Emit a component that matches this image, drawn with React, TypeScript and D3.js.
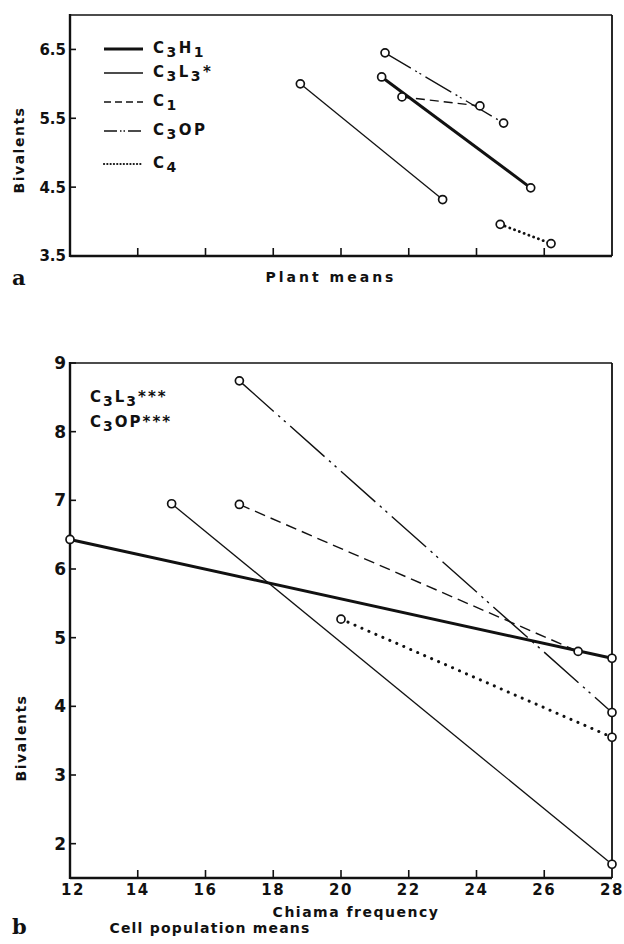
// Bivalents vs chiasma frequency, two panels (plant means / cell population means)
import React, { useRef, useEffect } from 'react';
import * as d3 from 'd3';

const SERIES = ['C3H1', 'C3L3*', 'C1', 'C3OP', 'C4'];

const X_TICKS = [12, 14, 16, 18, 20, 22, 24, 26, 28];
const TOP_Y_TICKS = [3.5, 4.5, 5.5, 6.5];
const BOTTOM_Y_TICKS = [2, 3, 4, 5, 6, 7, 8, 9];

// panel a: plant means, [start, end] per series
const PLANT_X = [[21.2, 25.6], [18.8, 23.0], [21.8, 24.1], [21.3, 24.8], [24.7, 26.2]];
const PLANT_Y = [[6.1, 4.49], [6.0, 4.32], [5.81, 5.68], [6.45, 5.43], [3.96, 3.68]];

// panel b: cell population means
const CELL_X = [[12, 28], [15, 28], [17, 27], [17, 28], [20, 28]];
const CELL_Y = [[6.43, 4.7], [6.95, 1.7], [6.94, 4.8], [8.74, 3.91], [5.27, 3.55]];

const SIG_LABELS = ['C3L3***', 'C3OP***'];

const FONT = '"DejaVu Sans", sans-serif';

type Style = { width: number; dash: string | null; cap: string };
const STYLES_TOP: Style[] = [
  { width: 3, dash: null, cap: 'butt' },
  { width: 1.3, dash: null, cap: 'butt' },
  { width: 1.4, dash: '9,5', cap: 'butt' },
  { width: 1.3, dash: '30,5,2,3,2,5', cap: 'butt' },
  { width: 2.8, dash: '0.1,5', cap: 'round' },
];
const STYLES_BOTTOM: Style[] = [
  { width: 3, dash: null, cap: 'butt' },
  { width: 1.3, dash: null, cap: 'butt' },
  { width: 1.4, dash: '11,6', cap: 'butt' },
  { width: 1.4, dash: '46,6,2.5,5,2.5,6', cap: 'butt' },
  { width: 3, dash: '0.1,7.5', cap: 'round' },
];

// digits become subscripts, e.g. C3H1 -> C₃H₁
function subText(sel: any, label: string, size: number) {
  sel.selectAll('tspan').remove();
  let sub = false;
  for (const ch of label) {
    const isDigit = /[0-9]/.test(ch);
    const t = sel.append('tspan').text(ch);
    if (isDigit && !sub) { t.attr('dy', 4).style('font-size', `${size - 1}px`); sub = true; }
    else if (!isDigit && sub) { t.attr('dy', -4); sub = false; }
    else if (isDigit) t.style('font-size', `${size - 1}px`);
  }
}

function drawPanel(svg: any, opts: any) {
  const { x, y, yTicks, xs, ys, styles, tickFmt, tickSize, xLabels } = opts;
  const g = svg.append('g');
  const [x0, x1] = x.range();
  const [y0, y1] = y.range();

  // frame
  g.append('line').attr('x1', x0).attr('x2', x1).attr('y1', y1).attr('y2', y1).attr('stroke', '#111').attr('stroke-width', 1.6);
  g.append('line').attr('x1', x1).attr('x2', x1).attr('y1', y1).attr('y2', y0).attr('stroke', '#111').attr('stroke-width', 1.8);
  g.append('line').attr('x1', x0).attr('x2', x0).attr('y1', y1 - 1).attr('y2', y0 + 1).attr('stroke', '#111').attr('stroke-width', 2.4);
  g.append('line').attr('x1', x0).attr('x2', x1).attr('y1', y0).attr('y2', y0).attr('stroke', '#111').attr('stroke-width', 2.4);

  // y ticks
  yTicks.forEach((t: number) => {
    g.append('line').attr('x1', x0).attr('x2', x0 + 6).attr('y1', y(t)).attr('y2', y(t))
      .attr('stroke', '#111').attr('stroke-width', 1.6);
    g.append('text').attr('x', x0 - 4).attr('y', y(t)).attr('dy', '0.36em')
      .attr('text-anchor', 'end').attr('font-family', FONT).attr('font-weight', 'bold')
      .style('font-size', `${tickSize}px`).attr('fill', '#111').text(tickFmt(t));
  });

  // x ticks
  X_TICKS.slice(1, -1).forEach((t: number) => {
    g.append('line').attr('x1', x(t)).attr('x2', x(t)).attr('y1', y0).attr('y2', y0 - 8)
      .attr('stroke', '#111').attr('stroke-width', 1.6);
  });
  if (xLabels) {
    X_TICKS.forEach((t: number) => {
      g.append('text').attr('x', x(t) + (t === 12 ? 3 : 0)).attr('y', y0 + 17)
        .attr('text-anchor', 'middle').attr('font-family', FONT).attr('font-weight', 'bold')
        .style('font-size', '15px').style('letter-spacing', '1.5px').attr('fill', '#111').text(t);
    });
  }

  // series
  const line = d3.line<[number, number]>().x(d => x(d[0])).y(d => y(d[1]));
  SERIES.forEach((_, i) => {
    const pts: [number, number][] = xs[i].map((v: number, j: number) => [v, ys[i][j]]);
    const s = styles[i];
    g.append('path').attr('d', line(pts)).attr('fill', 'none').attr('stroke', '#111')
      .attr('stroke-width', s.width).attr('stroke-dasharray', s.dash)
      .attr('stroke-linecap', s.cap);
  });
  SERIES.forEach((_, i) => {
    xs[i].forEach((v: number, j: number) => {
      g.append('circle').attr('cx', x(v)).attr('cy', y(ys[i][j])).attr('r', 4)
        .attr('fill', '#fff').attr('stroke', '#111').attr('stroke-width', 1.7);
    });
  });
  return g;
}

export default function App() {
  const svgRef = useRef<SVGSVGElement>(null);

  useEffect(() => {
    if (!svgRef.current) return;
    const svg = d3.select(svgRef.current);
    svg.selectAll('*').remove();

    // ---- panel a ----
    const xa = d3.scaleLinear().domain([12, 28]).range([70, 612]);
    const ya = d3.scaleLinear().domain([3.5, 7]).range([256, 15]);
    drawPanel(svg, {
      x: xa, y: ya, yTicks: TOP_Y_TICKS, xs: PLANT_X, ys: PLANT_Y, styles: STYLES_TOP,
      tickFmt: d3.format('.1f'), tickSize: 15, xLabels: false,
    });

    // legend
    const rowY = [49, 73, 102, 131, 164];
    SERIES.forEach((name, i) => {
      const s = STYLES_TOP[i];
      svg.append('line').attr('x1', 104).attr('x2', 143).attr('y1', rowY[i]).attr('y2', rowY[i])
        .attr('stroke', '#111').attr('stroke-width', i === 0 ? 3 : i === 4 ? 2.2 : s.width)
        .attr('stroke-dasharray', i === 2 ? '7,4' : i === 3 ? '13,3,1.5,2,1.5,3' : i === 4 ? '0.1,3.2' : null)
        .attr('stroke-linecap', i === 4 ? 'round' : 'butt');
      const t = svg.append('text').attr('x', 153).attr('y', rowY[i] + 4)
        .attr('font-family', FONT).attr('font-weight', 'bold').style('font-size', '15px')
        .style('letter-spacing', '2.5px').attr('fill', '#111');
      subText(t, name, 15);
    });

    svg.append('text').attr('transform', 'translate(24,150) rotate(-90)').attr('text-anchor', 'middle')
      .attr('font-family', FONT).attr('font-weight', 'bold').style('font-size', '14px')
      .style('letter-spacing', '1.5px').attr('fill', '#111').text('Bivalents');
    svg.append('text').attr('x', 331).attr('y', 282).attr('text-anchor', 'middle')
      .attr('font-family', FONT).attr('font-weight', 'bold').style('font-size', '14px')
      .style('letter-spacing', '3px').attr('fill', '#111').text('Plant means');
    svg.append('text').attr('x', 12).attr('y', 285).attr('font-family', '"DejaVu Serif", serif')
      .attr('font-weight', 'bold').style('font-size', '21px').attr('fill', '#111').text('a');

    // ---- panel b ----
    const xb = d3.scaleLinear().domain([12, 28]).range([70, 612]);
    const yb = d3.scaleLinear().domain([1.5, 9]).range([878, 363]);
    drawPanel(svg, {
      x: xb, y: yb, yTicks: BOTTOM_Y_TICKS, xs: CELL_X, ys: CELL_Y, styles: STYLES_BOTTOM,
      tickFmt: d3.format('d'), tickSize: 17, xLabels: true,
    });

    SIG_LABELS.forEach((lab, i) => {
      const t = svg.append('text').attr('x', 90).attr('y', 402 + i * 25)
        .attr('font-family', FONT).attr('font-weight', 'bold').style('font-size', '15px')
        .style('letter-spacing', '2px').attr('fill', '#111');
      subText(t, lab, 15);
    });

    svg.append('text').attr('transform', 'translate(26,738) rotate(-90)').attr('text-anchor', 'middle')
      .attr('font-family', FONT).attr('font-weight', 'bold').style('font-size', '14px')
      .style('letter-spacing', '1.5px').attr('fill', '#111').text('Bivalents');
    svg.append('text').attr('x', 356).attr('y', 917).attr('text-anchor', 'middle')
      .attr('font-family', FONT).attr('font-weight', 'bold').style('font-size', '14px')
      .style('letter-spacing', '1.5px').attr('fill', '#111').text('Chiama frequency');
    svg.append('text').attr('x', 210).attr('y', 933).attr('text-anchor', 'middle')
      .attr('font-family', FONT).attr('font-weight', 'bold').style('font-size', '14px')
      .style('letter-spacing', '1.2px').attr('fill', '#111').text('Cell population means');
    svg.append('text').attr('x', 12).attr('y', 934).attr('font-family', '"DejaVu Serif", serif')
      .attr('font-weight', 'bold').style('font-size', '21px').attr('fill', '#111').text('b');
  }, []);

  return (
    <svg ref={svgRef} width={624} height={944}
      style={{ position: 'absolute', left: 0, top: 0, background: '#fff' }} />
  );
}
